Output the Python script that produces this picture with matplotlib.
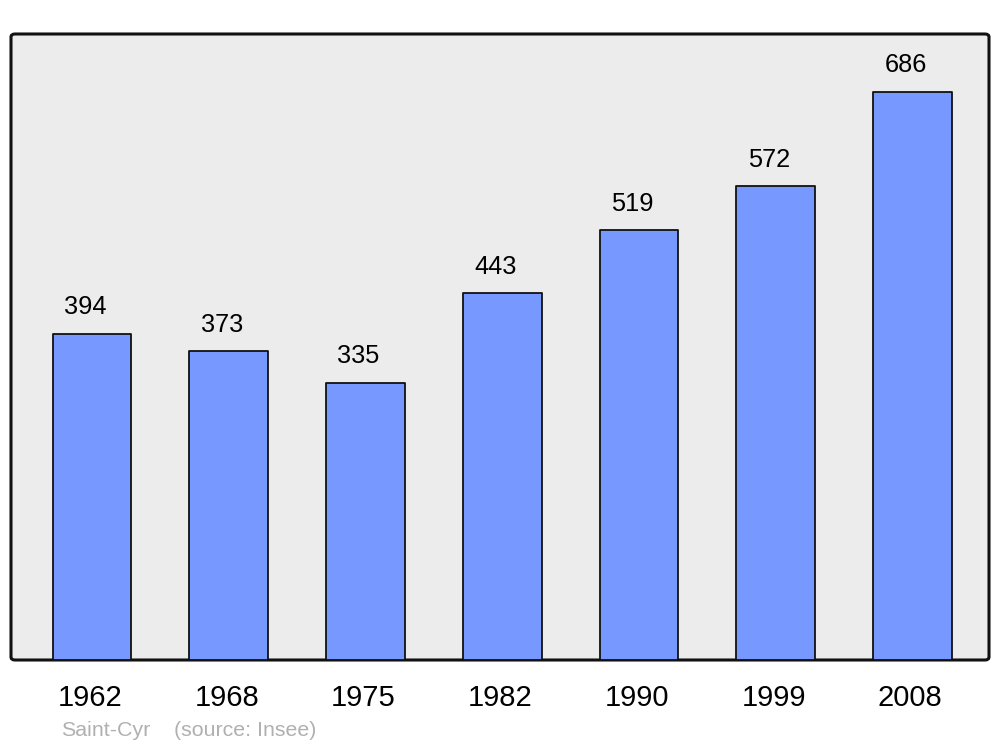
import matplotlib
matplotlib.use('Agg')
import matplotlib.pyplot as plt
from matplotlib.patches import FancyBboxPatch

years = ['1962', '1968', '1975', '1982', '1990', '1999', '2008']
population = [394, 373, 335, 443, 519, 572, 686]

plt.rcParams['font.family'] = ['Liberation Sans', 'DejaVu Sans']

fig = plt.figure(figsize=(10, 7.47), dpi=100)
ax = fig.add_axes([0.011, 1 - 660 / 747, 0.978, (660 - 34) / 747])
ax.set_facecolor('none')

# rounded frame with grey fill, behind the axes
frame = FancyBboxPatch((0.011, 1 - 660 / 747), 0.978, (660 - 34) / 747,
                       boxstyle='round,pad=0,rounding_size=0.004',
                       transform=fig.transFigure, facecolor='#ececec',
                       edgecolor='#111111', linewidth=2.2, zorder=-5)
fig.patches.append(frame)

x = range(len(years))
bars = ax.bar(x, population, width=0.575, color='#7799ff', edgecolor='#111111',
              linewidth=1.3, zorder=2)
for b in bars:
    b.set_joinstyle('round')

for xi, v in zip(x, population):
    ax.text(xi - 0.05, v + 32, str(v), ha='center', va='center', fontsize=18.3)

ax.set_xlim(-0.592, 6.56)
ax.set_ylim(0, 756)
for s in ax.spines.values():
    s.set_visible(False)
ax.set_yticks([])
ax.set_xticks([xi - 0.015 for xi in x])
ax.set_xticklabels(years, fontsize=21)
ax.tick_params(axis='x', length=0, pad=17)

fig.text(0.061, 1 - 730 / 747, 'Saint-Cyr', fontsize=15.4,
         color='#b0b0b0', va='center', ha='left')
fig.text(0.174, 1 - 730 / 747, '(source: Insee)', fontsize=15.4,
         color='#b0b0b0', va='center', ha='left')

fig.savefig('out.png', dpi=100)
